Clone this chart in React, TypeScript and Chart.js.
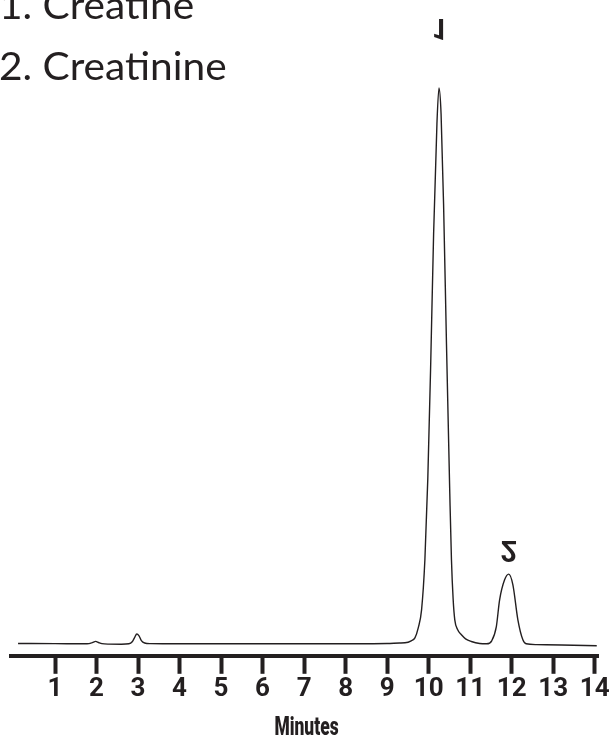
import React, { useEffect, useRef } from "react";
import { Chart, registerables } from "chart.js";

Chart.register(...registerables);

// Retention time (minutes) and detector signal (arbitrary units)
const TIMES = [
  0.11, 1.0, 1.7, 1.82, 1.9, 1.98, 2.05, 2.13, 2.3, 2.6, 2.78, 2.86, 2.92, 2.97, 3.02, 3.08, 3.16, 3.3,
  4.0, 6.0, 8.0, 9.0, 9.3, 9.43, 9.58, 9.67, 9.75, 9.83, 9.91, 9.98, 10.05, 10.12, 10.2, 10.25, 10.3,
  10.36, 10.43, 10.51, 10.55, 10.59, 10.63, 10.7, 10.79, 10.89, 11.03, 11.23, 11.4, 11.52, 11.63,
  11.71, 11.83, 11.93, 12.03, 12.15, 12.27, 12.35, 12.6, 13.2, 14.05,
];
const SIGNAL = [
  0.3, 0.2, 0, 0.2, 1.2, 2.4, 1.3, 0.2, -0.3, -0.4, 0, 2, 6.5, 9.8, 8.2, 3.2, 0.8, 0.2,
  0, 0, 0.1, 0.3, 0.8, 1, 3, 6, 16, 34, 84, 165, 280, 410, 520, 556, 530,
  440, 300, 150, 84, 45, 24, 14, 9, 5, 2.3, 0.3, 0, 3, 17,
  44, 64, 69.7, 59, 24, 4, 0, -0.8, -1.2, -2,
];

const TICK_VALUES = [1, 2, 3, 4, 5, 6, 7, 8, 9, 10, 11, 12, 13, 14];
const PEAK_NUMBERS = ["1", "2"];
const PEAK_TIMES = [10.25, 11.93];
const COMPOUNDS = ["1. Creatine", "2. Creatinine"];
const X_TITLE = "Minutes";

const INK = "#231f20";

const annotationPlugin = {
  id: "chromAnnotations",
  afterDraw(chart: any) {
    const ctx = chart.ctx as CanvasRenderingContext2D;
    const xs = chart.scales.x;
    const area = chart.chartArea;
    ctx.save();
    ctx.fillStyle = INK;
    // compound list, top-left
    ctx.font = "400 38px Lato";
    ctx.textAlign = "left";
    ctx.textBaseline = "alphabetic";
    const baselines = [19, 80];
    COMPOUNDS.forEach((txt, i) => {
      ctx.save();
      ctx.translate(-1, baselines[i]);
      ctx.scale(1.07, 1);
      ctx.fillText(txt, 0, 0);
      ctx.restore();
    });
    // peak numbers, drawn vertically mirrored as in the original
    const labelYs = [27, 549];
    ctx.font = "bold 29px Roboto";
    ctx.textAlign = "center";
    ctx.textBaseline = "middle";
    PEAK_NUMBERS.forEach((n, i) => {
      const x = xs.getPixelForValue(PEAK_TIMES[i]) + (i === 0 ? 1 : 0);
      ctx.save();
      ctx.translate(x, labelYs[i]);
      ctx.scale(1, -1);
      ctx.fillText(n, 0, 1);
      ctx.restore();
    });
    // x-axis title, condensed bold
    ctx.font = "900 26px Roboto";
    ctx.textAlign = "center";
    ctx.textBaseline = "alphabetic";
    ctx.save();
    ctx.translate((area.left + area.right) / 2 + 2, 735);
    ctx.scale(0.67, 1);
    ctx.fillText(X_TITLE, 0, 0);
    ctx.restore();
    ctx.restore();
  },
};

export default function App() {
  const ref = useRef<HTMLCanvasElement>(null);
  useEffect(() => {
    if (!ref.current) return;
    Chart.defaults.font.family = "Roboto";
    const chart = new Chart(ref.current, {
      type: "line",
      data: {
        datasets: [
          {
            data: TIMES.map((t, i) => ({ x: t, y: SIGNAL[i] })),
            borderColor: INK,
            borderWidth: 1.4,
            pointRadius: 0,
            fill: false,
            cubicInterpolationMode: "monotone",
          },
        ],
      },
      options: {
        animation: false,
        responsive: false,
        maintainAspectRatio: false,
        layout: { padding: { top: 20, left: 11, right: 14, bottom: 32 } },
        plugins: { legend: { display: false }, tooltip: { enabled: false } },
        scales: {
          x: {
            type: "linear",
            min: -0.06,
            max: 14.08,
            afterBuildTicks: (scale: any) => {
              scale.ticks = TICK_VALUES.map((v) => ({ value: v }));
            },
            ticks: {
              autoSkip: false,
              maxRotation: 0,
              padding: 0,
              color: INK,
              font: { family: "Roboto", weight: "bold", size: 26 },
              callback: (v: any) => String(v),
            },
            grid: {
              drawOnChartArea: false,
              drawTicks: true,
              tickLength: 18,
              tickWidth: 4,
              tickColor: INK,
            },
            border: { display: true, width: 4, color: INK },
            title: { display: false, text: X_TITLE },
          },
          y: { type: "linear", display: false, min: -12, max: 624 },
        },
      },
      plugins: [annotationPlugin],
    } as any);
    return () => chart.destroy();
  }, []);
  return (
    <div style={{ position: "absolute", left: 0, top: 0, width: 612, height: 737 }}>
      <canvas ref={ref} width={612} height={737} style={{ display: "block", width: 612, height: 737 }} />
    </div>
  );
}
